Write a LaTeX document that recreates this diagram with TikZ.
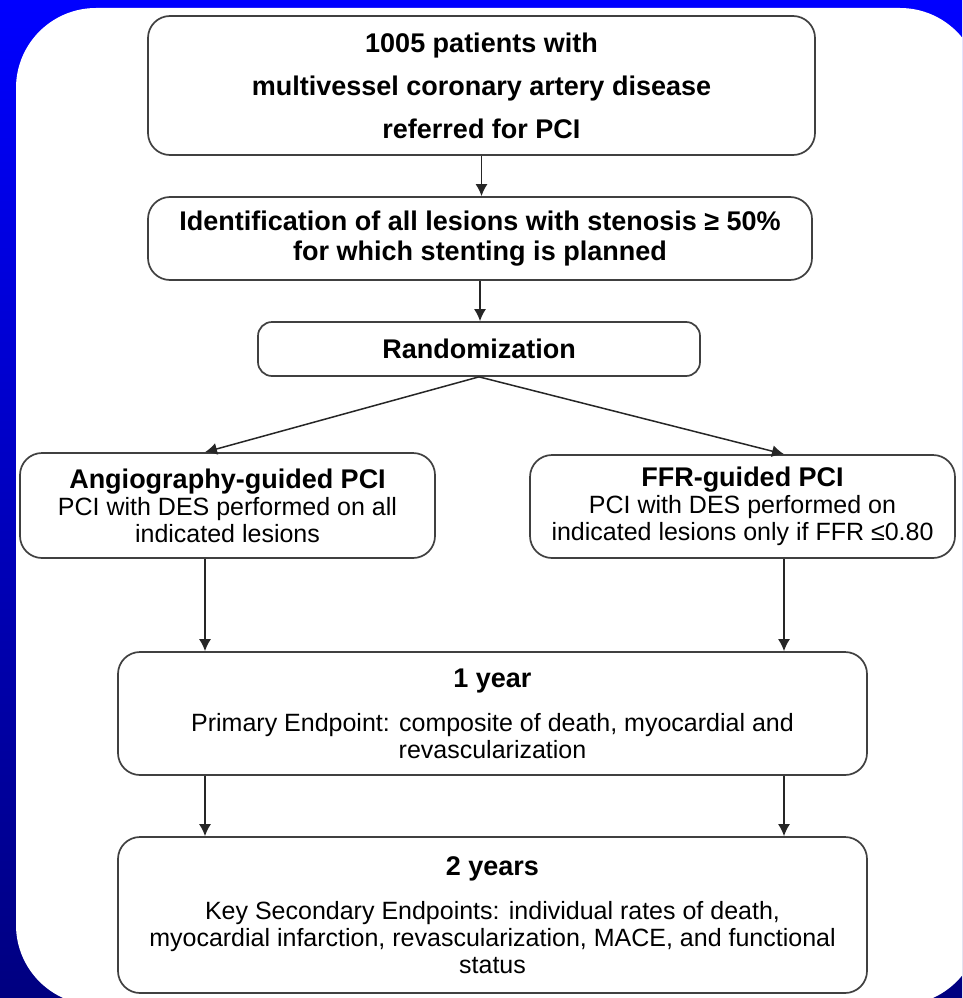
\documentclass[tikz,border=0pt]{standalone}
\usepackage{fontspec}
\setmainfont{Liberation Sans}
\usetikzlibrary{arrows.meta, calc}
\definecolor{slideblue}{RGB}{0,0,255}
\definecolor{slidenavy}{RGB}{0,0,128}
\newcommand{\boxtitle}[1]{{\fontsize{27}{30}\selectfont\bfseries #1}}

\begin{document}
\begin{tikzpicture}[x=1pt, y=-1pt,
    box/.style={draw=black!75, line width=1.7pt, rounded corners=22pt, fill=white,
      inner sep=0pt, align=center, font=\fontsize{25}{27}\selectfont},
    arr/.style={-{Latex[length=12pt,width=12pt]}, draw=black!85, line width=1.5pt}]
  \useasboundingbox (0,0) rectangle (962,998);
  \clip (0,0) rectangle (962,998);
  \shade[top color=slideblue, bottom color=slidenavy] (0,0) rectangle (962,998);
  \fill[white, rounded corners=80pt] (16,8) rectangle (980,1005);

  \coordinate (lcol) at (205,0);
  \coordinate (rcol) at (784,0);

  \node[box, minimum width=667pt, minimum height=139pt, font=\fontsize{27}{43}\selectfont\bfseries]
    (patients) at (481.5,85.5) {1005 patients with\\multivessel coronary artery disease\\referred for PCI};
  \node[box, minimum width=664pt, minimum height=83pt, font=\fontsize{27}{30}\selectfont\bfseries]
    (lesions) at (480,238.5) {Identification of all lesions with stenosis ≥ 50\%\\for which stenting is planned};
  \node[box, rounded corners=14pt, minimum width=442pt, minimum height=54pt, font=\fontsize{27}{30}\selectfont\bfseries]
    (random) at (479,349) {Randomization};
  \node[box, minimum width=415pt, minimum height=105pt]
    (angio) at (227.5,505.5) {\boxtitle{Angiography-guided PCI}\\PCI with DES performed on all\\indicated lesions};
  \node[box, minimum width=425pt, minimum height=103pt]
    (ffr) at (742.5,506.5) {\boxtitle{FFR-guided PCI}\\PCI with DES performed on\\indicated lesions only if FFR ≤0.80};
  \node[box, minimum width=749pt, minimum height=123pt]
    (year1) at (492.5,713.5) {\boxtitle{1 year}\\[17pt]Primary Endpoint: composite of death, myocardial and\\revascularization};
  \node[box, minimum width=749pt, minimum height=156pt]
    (year2) at (492.5,915) {\boxtitle{2 years}\\[17pt]Key Secondary Endpoints: individual rates of death,\\myocardial infarction, revascularization, MACE, and functional\\status};

  \draw[arr] (patients.south) -- (patients.south |- lesions.north);
  \draw[arr] (lesions.south) -- (lesions.south |- random.north);
  \draw[arr] (random.south) -- (angio.north -| lcol);
  \draw[arr] (random.south) -- (ffr.north -| rcol);
  \draw[arr] (angio.south -| lcol) -- (year1.north -| lcol);
  \draw[arr] (ffr.south -| rcol) -- (year1.north -| rcol);
  \draw[arr] (year1.south -| lcol) -- (year2.north -| lcol);
  \draw[arr] (year1.south -| rcol) -- (year2.north -| rcol);
\end{tikzpicture}
\end{document}
